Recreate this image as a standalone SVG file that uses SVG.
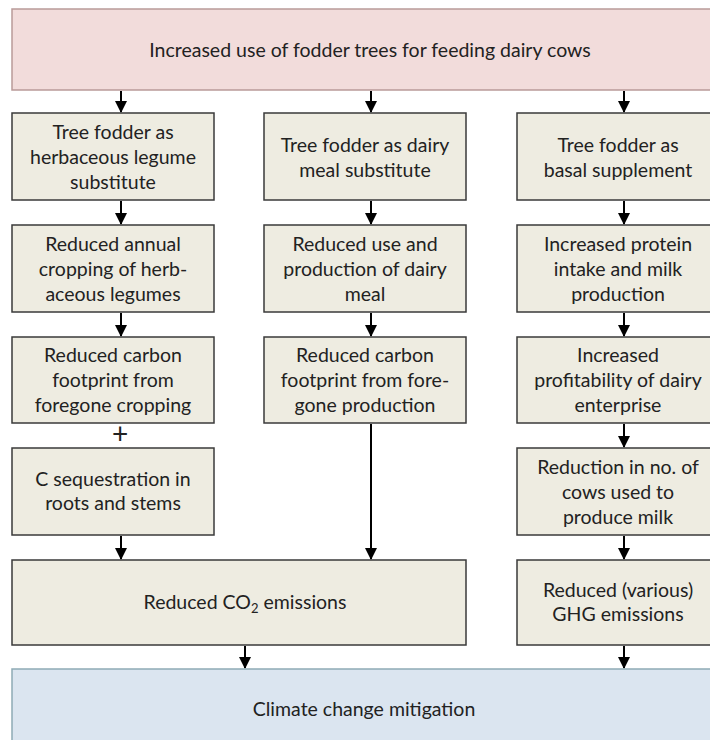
<svg xmlns="http://www.w3.org/2000/svg" width="710" height="740" viewBox="0 0 710 740">
<defs>
<style>
.box{fill:#eeece1;stroke:#3a3a3a;stroke-width:1.5}
.t{font-family:Lato,"Open Sans","Liberation Sans",sans-serif;font-size:19.5px;fill:#222;text-anchor:middle}
.c{stroke:#000;stroke-width:2;fill:none}
</style>
<marker id="ah2" markerWidth="12" markerHeight="12" refX="11" refY="6" orient="auto" markerUnits="userSpaceOnUse" viewBox="0 0 12 12">
<path d="M0,0 L12,6 L0,12 z" fill="#000"/>
</marker>
</defs>
<rect width="710" height="740" fill="#ffffff"/>

<g id="connectors">
<line class="c" x1="121" y1="91" x2="121" y2="112" marker-end="url(#ah2)"/>
<line class="c" x1="371" y1="91" x2="371" y2="112" marker-end="url(#ah2)"/>
<line class="c" x1="624" y1="91" x2="624" y2="112" marker-end="url(#ah2)"/>
<line class="c" x1="121" y1="201" x2="121" y2="224" marker-end="url(#ah2)"/>
<line class="c" x1="371" y1="201" x2="371" y2="224" marker-end="url(#ah2)"/>
<line class="c" x1="624" y1="201" x2="624" y2="224" marker-end="url(#ah2)"/>
<line class="c" x1="121" y1="313" x2="121" y2="336" marker-end="url(#ah2)"/>
<line class="c" x1="371" y1="313" x2="371" y2="336" marker-end="url(#ah2)"/>
<line class="c" x1="624" y1="313" x2="624" y2="336" marker-end="url(#ah2)"/>
<line class="c" x1="624" y1="424" x2="624" y2="447" marker-end="url(#ah2)"/>
<line class="c" x1="121" y1="536" x2="121" y2="559" marker-end="url(#ah2)"/>
<line class="c" x1="371" y1="424" x2="371" y2="559" marker-end="url(#ah2)"/>
<line class="c" x1="624" y1="536" x2="624" y2="559" marker-end="url(#ah2)"/>
<line class="c" x1="245" y1="646" x2="245" y2="668" marker-end="url(#ah2)"/>
<line class="c" x1="624" y1="646" x2="624" y2="668" marker-end="url(#ah2)"/>
</g>

<g id="top">
<rect x="12" y="9" width="710" height="81" fill="#f2dcdb" stroke="#b99a99" stroke-width="1.5"/>
<text class="t" x="370" y="57">Increased use of fodder trees for feeding dairy cows</text>
</g>

<g id="n1a">
<rect class="box" x="12" y="113" width="202" height="87"/>
<text class="t" x="113" y="139">Tree fodder as</text>
<text class="t" x="113" y="164">herbaceous legume</text>
<text class="t" x="113" y="189">substitute</text>
</g>
<g id="n2a">
<rect class="box" x="264" y="113" width="202" height="87"/>
<text class="t" x="365" y="152">Tree fodder as dairy</text>
<text class="t" x="365" y="177">meal substitute</text>
</g>
<g id="n3a">
<rect class="box" x="517" y="113" width="205" height="87"/>
<text class="t" x="618" y="152">Tree fodder as</text>
<text class="t" x="618" y="177">basal supplement</text>
</g>

<g id="n1b">
<rect class="box" x="12" y="225" width="202" height="87"/>
<text class="t" x="113" y="251">Reduced annual</text>
<text class="t" x="113" y="276">cropping of herb-</text>
<text class="t" x="113" y="301">aceous legumes</text>
</g>
<g id="n2b">
<rect class="box" x="264" y="225" width="202" height="87"/>
<text class="t" x="365" y="251">Reduced use and</text>
<text class="t" x="365" y="276">production of dairy</text>
<text class="t" x="365" y="301">meal</text>
</g>
<g id="n3b">
<rect class="box" x="517" y="225" width="205" height="87"/>
<text class="t" x="618" y="251">Increased protein</text>
<text class="t" x="618" y="276">intake and milk</text>
<text class="t" x="618" y="301">production</text>
</g>

<g id="n1c">
<rect class="box" x="12" y="337" width="202" height="86"/>
<text class="t" x="113" y="362">Reduced carbon</text>
<text class="t" x="113" y="387">footprint from</text>
<text class="t" x="113" y="412">foregone cropping</text>
</g>
<g id="n2c">
<rect class="box" x="264" y="337" width="202" height="86"/>
<text class="t" x="365" y="362">Reduced carbon</text>
<text class="t" x="365" y="387">footprint from fore-</text>
<text class="t" x="365" y="412">gone production</text>
</g>
<g id="n3c">
<rect class="box" x="517" y="337" width="205" height="86"/>
<text class="t" x="618" y="362">Increased</text>
<text class="t" x="618" y="387">profitability of dairy</text>
<text class="t" x="618" y="412">enterprise</text>
</g>

<g id="plus">
<text class="t" x="120" y="444" style="font-size:28px">+</text>
</g>

<g id="n1d">
<rect class="box" x="12" y="448" width="202" height="87"/>
<text class="t" x="113" y="486">C sequestration  in</text>
<text class="t" x="113" y="510">roots and  stems</text>
</g>
<g id="n3d">
<rect class="box" x="517" y="448" width="205" height="87"/>
<text class="t" x="618" y="474">Reduction in no. of</text>
<text class="t" x="618" y="499">cows used to</text>
<text class="t" x="618" y="524">produce milk</text>
</g>

<g id="co2">
<rect class="box" x="12" y="560" width="454" height="85"/>
<text class="t" x="245" y="609">Reduced CO<tspan style="font-size:13px" dy="4">2</tspan><tspan dy="-4"> emissions</tspan></text>
</g>
<g id="ghg">
<rect class="box" x="517" y="560" width="205" height="85"/>
<text class="t" x="618" y="597">Reduced (various)</text>
<text class="t" x="618" y="621">GHG emissions</text>
</g>

<g id="bottom">
<rect x="12" y="669" width="710" height="90" fill="#dbe5f0" stroke="#8eaab5" stroke-width="1.5"/>
<text class="t" x="364" y="716">Climate change mitigation</text>
</g>
</svg>
